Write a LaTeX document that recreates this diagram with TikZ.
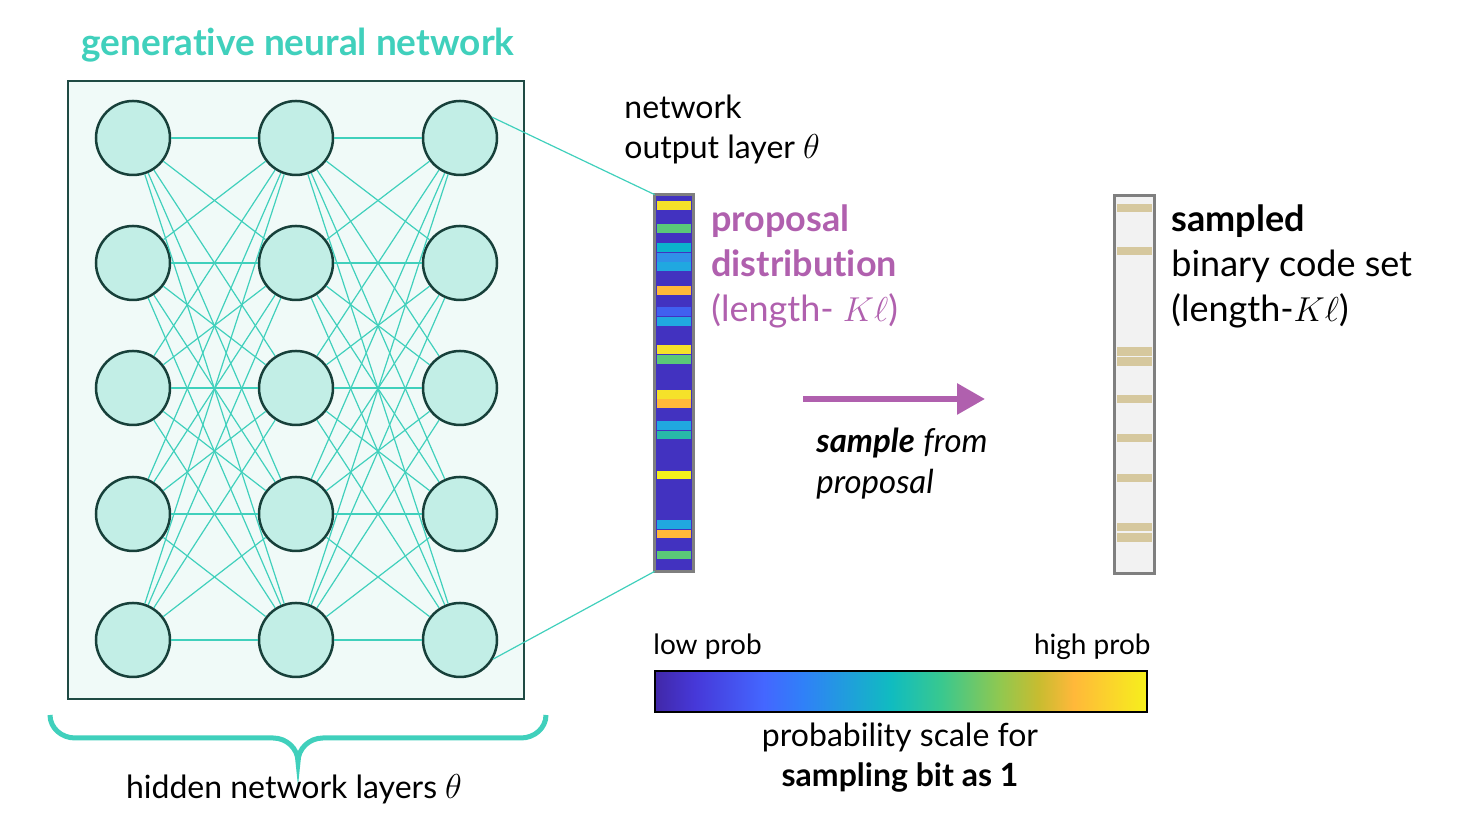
\documentclass[tikz,border=0pt]{standalone}
\usepackage{fontspec}
\setmainfont{Lato}[Ligatures={TeX,NoCommon}]
\usetikzlibrary{
  arrows.meta,
  positioning
}
\definecolor{netTeal}{HTML}{40D0BC}
\definecolor{netFill}{HTML}{C2EEE6}
\definecolor{netBorder}{HTML}{17403A}
\definecolor{boxFill}{HTML}{F0FAF8}
\definecolor{boxBorder}{HTML}{1F4A44}
\definecolor{propPurple}{HTML}{B060AE}
\definecolor{barGray}{HTML}{7F7F7F}
\definecolor{barBase}{HTML}{4232C0}
\definecolor{sampBase}{HTML}{F2F2F2}
\definecolor{sampTan}{HTML}{D6C89E}
\definecolor{pYellow}{HTML}{F5E12A}
\definecolor{pYellowB}{HTML}{F4F01C}
\definecolor{pGreen}{HTML}{5AC878}
\definecolor{pCyan}{HTML}{0BB4CC}
\definecolor{pBlue}{HTML}{3090E8}
\definecolor{pLightBlue}{HTML}{20A8E0}
\definecolor{pOrange}{HTML}{FFB93A}
\definecolor{pBlueB}{HTML}{4060F0}
\definecolor{pTeal}{HTML}{28B9A8}
\definecolor{sc0}{HTML}{4128A8}
\definecolor{sc1}{HTML}{4638D8}
\definecolor{sc2}{HTML}{4466FF}
\definecolor{sc3}{HTML}{3080F8}
\definecolor{sc4}{HTML}{10BCC0}
\definecolor{sc5}{HTML}{38C890}
\definecolor{sc6}{HTML}{90C850}
\definecolor{sc7}{HTML}{C8BC30}
\definecolor{sc8}{HTML}{FFB83A}
\definecolor{sc9}{HTML}{F6F01C}
\pgfdeclarehorizontalshading{probscale}{100bp}{
  color(0bp)=(sc0); color(25bp)=(sc0); color(29bp)=(sc1); color(36bp)=(sc2);
  color(40bp)=(sc3); color(49bp)=(sc4); color(54bp)=(sc5); color(60bp)=(sc6);
  color(64bp)=(sc7); color(67.5bp)=(sc8); color(75bp)=(sc9); color(100bp)=(sc9)}
\tikzset{
  netBox/.style={draw=boxBorder, line width=0.8pt, fill=boxFill, inner sep=0pt},
  netCircle/.style={
    circle,
    draw=netBorder,
    line width=1.25pt,
    fill=netFill,
    minimum size=37pt,
    inner sep=0pt
  },
  netEdge/.style={netTeal, line width=0.6pt},
  barBody/.style={inner sep=0pt, minimum width=19pt, minimum height=188pt},
  barFrame/.style={draw=barGray, line width=1.5pt},
  braceLine/.style={netTeal, line width=2.5pt},
  sampleArrow/.style={propPurple, line width=3pt, -{Triangle[length=14pt,width=15pt]}},
  titleText/.style={font=\fontsize{18.5}{22}\selectfont\bfseries, text=netTeal},
  plainText/.style={font=\fontsize{16}{20}\selectfont, align=left, inner sep=0pt},
  smallText/.style={font=\fontsize{14}{18}\selectfont, inner sep=0pt},
  bigText/.style={font=\fontsize{18}{22.5}\selectfont, align=left, inner sep=0pt}
}

\begin{document}
\begin{tikzpicture}[x=0.5pt,y=0.5pt]
  \useasboundingbox (0,0) rectangle (1464,838);

  % network
  \node[titleText] (title) at (298,793) {generative neural network};
  \node[netBox, minimum width=228pt, minimum height=309pt] (netbox) at (296,448) {};
  \foreach \c/\x in {1/133,2/296,3/460}
    \foreach \r/\y in {1/700,2/575,3/450,4/324,5/198}
      \node[netCircle] (n\c-\r) at (\x,\y) {};
  \foreach \a in {1,...,5}
    \foreach \b in {1,...,5} {
      \draw[netEdge] (n1-\a) -- (n2-\b);
      \draw[netEdge] (n2-\a) -- (n3-\b);
    }

  \draw[braceLine] (50,123) to[out=-90,in=180] (75,100) -- (273,100)
    to[out=0,in=90] (298,76) to[out=90,in=180] (323,100) -- (521,100)
    to[out=0,in=-90] (546,123);
  \node[plainText] (hiddenLabel) at (294,49) {hidden network layers $\theta$};

  % proposal distribution
  \node[barBody, fill=barBase] (pbar) at (674,455) {};
  \foreach \ya/\yb/\col in {637/628/pYellow, 614/605/pGreen, 595/586/pCyan,
      585/576/pBlue, 576/567/pLightBlue, 552/543/pOrange, 531/522/pBlueB,
      521/512/pLightBlue, 493/484/pYellow, 483/474/pGreen, 448/439/pYellow,
      439/430/pOrange, 417/408/pLightBlue, 407/399/pTeal, 367/359/pYellowB,
      318/309/pLightBlue, 308/300/pOrange, 287/279/pGreen}
    \fill[\col] (657,\ya) rectangle (691,\yb);
  \draw[barFrame] (pbar.south west) rectangle (pbar.north east);
  \draw[netEdge] (n3-1.33) -- (pbar.north west);
  \draw[netEdge] (n3-5.-30) -- (pbar.south west);

  \node[plainText, anchor=west] (outLabel) at (624,709) {network\\output layer $\theta$};
  \node[bigText, anchor=west, text=propPurple] (propLabel) at (711,572)
    {\textbf{proposal}\\\textbf{distribution}\\(length- $K\ell$)};

  % sampling
  \coordinate (arrowStart) at (803,439);
  \coordinate (arrowEnd) at (985,439);
  \draw[sampleArrow] (arrowStart) -- (arrowEnd);
  \node[plainText, font=\fontsize{16.5}{20.5}\selectfont, anchor=west] (sampleLabel) at (816,374)
    {\textbf{\textit{sample}} \textit{from}\\\textit{proposal}};

  % sampled code set
  \node[barBody, minimum width=19.5pt, minimum height=188.5pt, fill=sampBase] (sbar) at (1134.5,453.5) {};
  \foreach \ya/\yb in {634/626, 591/583, 491/482, 481/472, 443/435, 404/396,
      364/356, 315/307, 305/296}
    \fill[sampTan] (1117,\ya) rectangle (1152,\yb);
  \draw[barFrame] (sbar.south west) rectangle (sbar.north east);
  \node[bigText, anchor=west] (sampLabel) at (1171,572)
    {\textbf{sampled}\\binary code set\\(length-$K\ell$)};

  % probability scale
  \node[shade, shading=probscale, draw=black, line width=1pt, inner sep=0pt,
    minimum width=246pt, minimum height=20.5pt] (cbar) at (901,146.5) {};
  \node[smallText, anchor=west] (lowLabel) at (653,191) {low prob};
  \node[smallText, anchor=east] (highLabel) at (1151,191) {high prob};
  \node[plainText, align=center] (scaleLabel) at (900,80)
    {probability scale for\\\textbf{sampling bit as 1}};
\end{tikzpicture}
\end{document}
